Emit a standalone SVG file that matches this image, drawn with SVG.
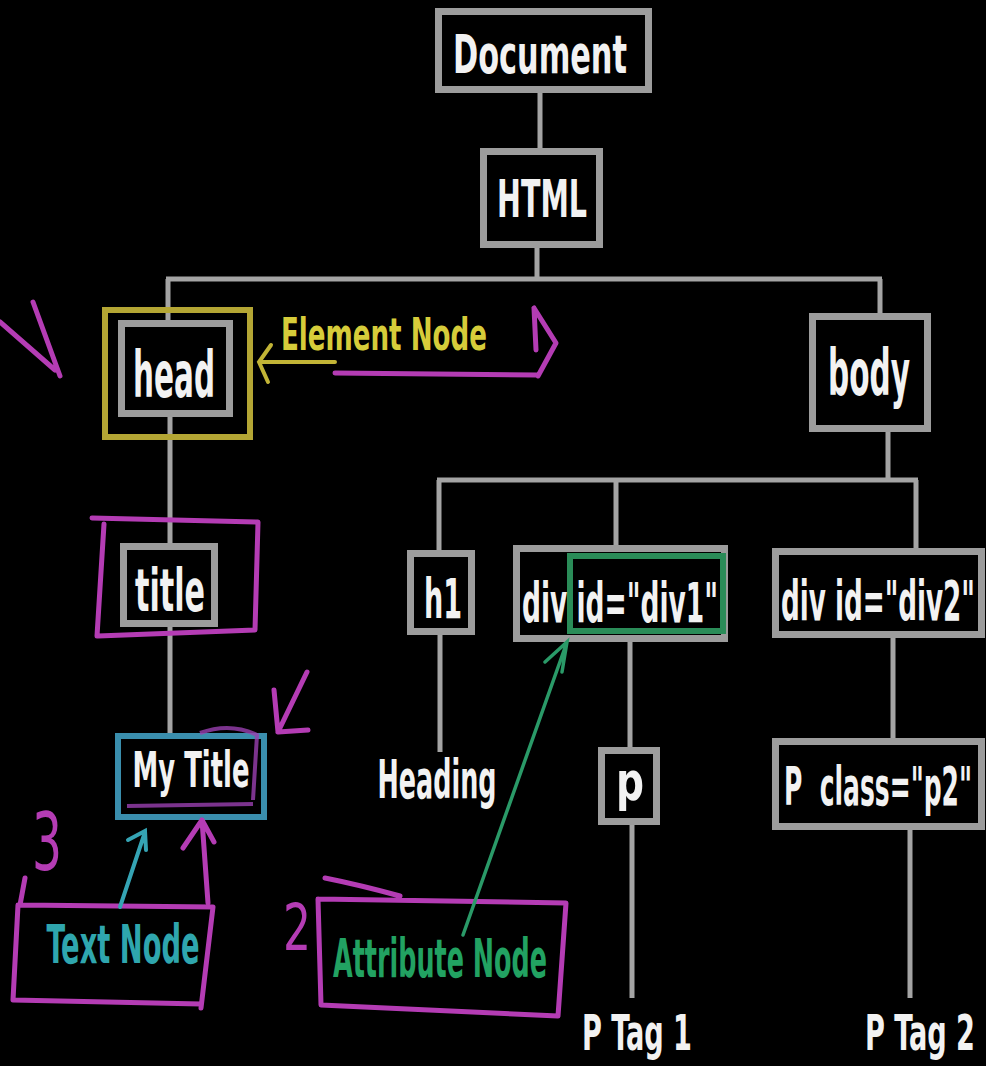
<svg xmlns="http://www.w3.org/2000/svg" width="986" height="1066" viewBox="0 0 986 1066">
<style>
.bg{fill:#000}
.box{fill:#000;stroke:#9c9c9c;stroke-width:7}
.lbl{font-family:"DejaVu Sans Condensed","DejaVu Sans",sans-serif;font-weight:bold;fill:#f2f2f2;text-anchor:middle}
.con{stroke:#a4a4a4;stroke-width:5;fill:none}
.mag{stroke:#b43cb4;stroke-width:5;fill:none;stroke-linecap:round;stroke-linejoin:round}
.hand{font-family:"DejaVu Sans Condensed","DejaVu Sans",sans-serif;fill:#b43cb4;text-anchor:middle}
</style>
<rect class="bg" x="0" y="0" width="986" height="1066"/>
<g id="connectors">
<path class="con" d="M540,93 L540,148"/>
<path class="con" d="M537,248 L537,279 M166,279 L882,279 M168,279 L168,322 M880,279 L880,313"/>
<path class="con" d="M170,417 L170,543"/>
<path class="con" d="M170,627 L170,733"/>
<path class="con" d="M888,432 L888,480 M437,480 L918,480 M439,480 L439,550 M616,480 L616,545 M916,480 L916,548"/>
<path class="con" d="M440,635 L440,752"/>
<path class="con" d="M630,642 L630,747"/>
<path class="con" d="M632,825 L632,998"/>
<path class="con" d="M893,638 L893,738"/>
<path class="con" d="M910,830 L910,998"/>
</g>
<g id="document"><rect class="box" x="438.5" y="11.5" width="210" height="78"/><text class="lbl" x="540" y="73" font-size="54" textLength="174" lengthAdjust="spacingAndGlyphs">Document</text></g>
<g id="html"><rect class="box" x="483.5" y="151.5" width="116" height="93"/><text class="lbl" x="542" y="217" font-size="51" textLength="90" lengthAdjust="spacingAndGlyphs">HTML</text></g>
<g id="head"><rect x="105" y="310" width="145" height="127" fill="none" stroke="#b4a634" stroke-width="6"/><rect class="box" x="121.5" y="323.5" width="108" height="90"/><text class="lbl" x="174" y="397" font-size="64" textLength="82" lengthAdjust="spacingAndGlyphs">head</text></g>
<g id="element-note"><text x="384" y="350" font-family="'DejaVu Sans Condensed','DejaVu Sans',sans-serif" font-weight="bold" font-size="44" fill="#d6cc3a" text-anchor="middle" textLength="206" lengthAdjust="spacingAndGlyphs">Element Node</text><path d="M271,345 L259,362 L268,382 M259,362 L335,362" fill="none" stroke="#c2b436" stroke-width="4" stroke-linecap="round"/><path class="mag" d="M335,373 L537,375 M534,308 L536,350 M534,308 L556,343 L538,376"/></g>
<g id="body"><rect class="box" x="812.5" y="316.5" width="115" height="112"/><text class="lbl" x="869" y="395" font-size="64" textLength="82" lengthAdjust="spacingAndGlyphs">body</text></g>
<g id="title"><rect class="box" x="123.5" y="546.5" width="91" height="77"/><text class="lbl" x="170" y="611" font-size="58" textLength="70" lengthAdjust="spacingAndGlyphs">title</text><path class="mag" d="M92,518 L258,522 L255,630 L98,636 M104,524 L97,636"/></g>
<g id="mytitle"><rect x="118" y="736" width="146" height="81" fill="#000" stroke="#3a8ead" stroke-width="6"/><text class="lbl" x="191" y="787" font-size="50" textLength="117" lengthAdjust="spacingAndGlyphs">My Title</text><path d="M200,733 Q230,722 257,735 L253,800 M127,806 L253,804" fill="none" stroke="#9a40b0" stroke-width="4" opacity="0.8"/><path class="mag" d="M307,672 L278,732 M274,690 L278,732 L308,730"/></g>
<g id="textnode"><text x="123" y="963" font-family="'DejaVu Sans Condensed','DejaVu Sans',sans-serif" font-weight="bold" font-size="54" fill="#2fa6ae" text-anchor="middle" textLength="153" lengthAdjust="spacingAndGlyphs">Text Node</text><path class="mag" d="M25,878 L20,905 L213,907 L201,1008 M18,905 L13,1000 L201,1004"/><path d="M120,907 L145,832 M128,840 L145,831 L146,850" fill="none" stroke="#35a4b4" stroke-width="4" stroke-linecap="round"/><path class="mag" d="M208,903 L202,820 M183,848 L202,820 L214,842"/><text class="hand" x="47" y="870" font-size="80" textLength="30" lengthAdjust="spacingAndGlyphs">3</text></g>
<g id="h1"><rect class="box" x="410.5" y="553.5" width="61" height="78"/><text class="lbl" x="443" y="618" font-size="56" textLength="38" lengthAdjust="spacingAndGlyphs">h1</text></g>
<g id="heading"><text class="lbl" x="437" y="798" font-size="54" textLength="119" lengthAdjust="spacingAndGlyphs">Heading</text></g>
<g id="div1"><rect class="box" x="516.5" y="548.5" width="208" height="90"/><rect x="570" y="556" width="153" height="75" fill="none" stroke="#2a8c58" stroke-width="6"/><text class="lbl" x="620" y="622" font-size="56" textLength="196" lengthAdjust="spacingAndGlyphs">div id="div1"</text></g>
<g id="p"><rect class="box" x="601.5" y="750.5" width="55" height="71"/><text class="lbl" x="630" y="800" font-size="54" textLength="28" lengthAdjust="spacingAndGlyphs">p</text></g>
<g id="ptag1"><text class="lbl" x="637" y="1050" font-size="50" textLength="110" lengthAdjust="spacingAndGlyphs">P Tag 1</text></g>
<g id="attrnode"><text x="440" y="977" font-family="'DejaVu Sans Condensed','DejaVu Sans',sans-serif" font-weight="bold" font-size="54" fill="#22a262" text-anchor="middle" textLength="214" lengthAdjust="spacingAndGlyphs">Attribute Node</text><path class="mag" d="M325,878 Q360,885 400,896 M318,899 L566,903 L558,1016 L321,1005 L318,899"/><path d="M463,935 L567,642 M545,662 L567,642 L562,672" fill="none" stroke="#2a9a68" stroke-width="3.5" stroke-linecap="round"/><text class="hand" x="297" y="950" font-size="64" textLength="28" lengthAdjust="spacingAndGlyphs">2</text></g>
<g id="div2"><rect class="box" x="775.5" y="551.5" width="206" height="83"/><text class="lbl" x="878" y="620" font-size="56" textLength="194" lengthAdjust="spacingAndGlyphs">div id="div2"</text></g>
<g id="p2"><rect class="box" x="775.5" y="741.5" width="206" height="85"/><text class="lbl" x="878" y="805" font-size="54" textLength="188" lengthAdjust="spacingAndGlyphs" xml:space="preserve">P  class="p2"</text></g>
<g id="ptag2"><text class="lbl" x="920" y="1050" font-size="50" textLength="110" lengthAdjust="spacingAndGlyphs">P Tag 2</text></g>
<g id="arrow-left"><path class="mag" d="M33,302 L60,376 M0,322 L55,370"/></g>
</svg>
